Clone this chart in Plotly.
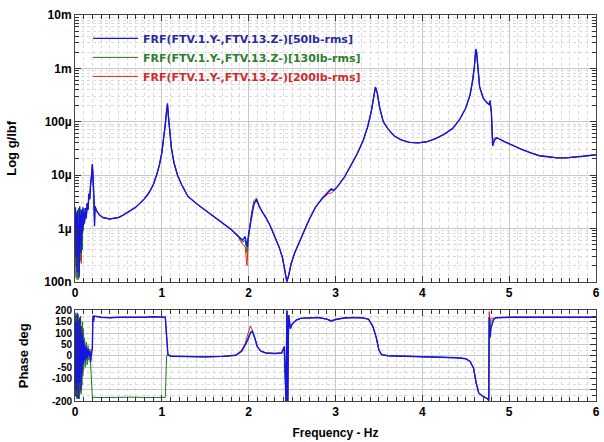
import plotly.graph_objects as go

# ---------------- data ----------------
freq_mag = [0.005, 0.012, 0.018, 0.024, 0.03, 0.036, 0.042, 0.048, 0.054, 0.06,
            0.066, 0.072, 0.078, 0.084, 0.09, 0.096, 0.102, 0.11, 0.12, 0.13,
            0.14, 0.15, 0.16, 0.17, 0.18, 0.19, 0.20, 0.205, 0.21, 0.22,
            0.225, 0.23, 0.25, 0.28, 0.32, 0.36, 0.40, 0.45, 0.50, 0.55,
            0.60, 0.65, 0.70, 0.75, 0.80, 0.85, 0.90, 0.94, 0.97, 1.00,
            1.02, 1.04, 1.055, 1.065, 1.075, 1.09, 1.11, 1.14, 1.18, 1.23,
            1.30, 1.40, 1.50, 1.60, 1.70, 1.80, 1.88, 1.93, 1.96, 1.98,
            2.00, 2.03, 2.06, 2.09, 2.12, 2.16, 2.20, 2.25, 2.30, 2.35,
            2.39, 2.42, 2.44, 2.46, 2.49, 2.53, 2.58, 2.63, 2.70, 2.77,
            2.85, 2.92, 2.95, 2.98, 3.02, 3.10, 3.18, 3.25, 3.32, 3.37,
            3.41, 3.44, 3.46, 3.48, 3.51, 3.55, 3.60, 3.67, 3.75, 3.85,
            3.95, 4.05, 4.15, 4.25, 4.35, 4.43, 4.50, 4.55, 4.58, 4.60,
            4.615, 4.625, 4.64, 4.66, 4.70, 4.74, 4.77, 4.78, 4.795, 4.81,
            4.83, 4.86, 4.95, 5.05, 5.15, 5.25, 5.35, 5.45, 5.55, 5.65,
            5.75, 5.85, 5.95, 6.00]

mag_50 = [2.5e-6, 3e-7, 1.8e-6, 1.5e-7, 2.2e-6, 4e-7, 1.2e-6, 1.2e-7, 2.6e-6, 6e-7,
          1.8e-6, 3.5e-7, 2.2e-6, 8e-7, 2.5e-6, 1.1e-6, 2.0e-6, 1.3e-6, 2.4e-6, 1.6e-6,
          3.0e-6, 2.2e-6, 4.5e-6, 3.5e-6, 7e-6, 9e-6, 1.6e-5, 1.2e-5, 6e-6, 3.5e-6,
          1.1e-6, 2.6e-6, 2.1e-6, 1.8e-6, 1.6e-6, 1.55e-6, 1.5e-6, 1.55e-6, 1.6e-6, 1.75e-6,
          1.95e-6, 2.2e-6, 2.5e-6, 3.0e-6, 3.6e-6, 4.6e-6, 6.5e-6, 1.0e-5, 1.5e-5, 2.6e-5,
          4.5e-5, 9e-5, 1.6e-4, 2.2e-4, 1.3e-4, 6e-5, 3.2e-5, 1.7e-5, 1.0e-5, 6.5e-6,
          4.0e-6, 2.9e-6, 2.2e-6, 1.7e-6, 1.3e-6, 9.5e-7, 7.2e-7, 6.0e-7, 7.0e-7, 4.5e-7,
          8.0e-7, 1.6e-6, 2.8e-6, 3.5e-6, 2.6e-6, 2.0e-6, 1.6e-6, 1.1e-6, 7.0e-7, 4.5e-7,
          2.8e-7, 1.5e-7, 1.0e-7, 1.3e-7, 2.2e-7, 3.5e-7, 5.5e-7, 8.5e-7, 1.5e-6, 2.5e-6,
          3.7e-6, 4.9e-6, 5.5e-6, 5.2e-6, 6.0e-6, 9.0e-6, 1.5e-5, 2.5e-5, 4.5e-5, 8e-5,
          1.5e-4, 3.0e-4, 4.5e-4, 3.5e-4, 1.8e-4, 1.0e-4, 7.5e-5, 5.5e-5, 4.6e-5, 4.1e-5,
          4.0e-5, 4.2e-5, 4.8e-5, 5.8e-5, 7.5e-5, 1.1e-4, 1.8e-4, 3.2e-4, 6e-4, 1.1e-3,
          2.3e-3, 2.0e-3, 9e-4, 4.5e-4, 2.8e-4, 2.3e-4, 2.1e-4, 2.5e-4, 1.5e-4, 3.5e-5,
          4.5e-5, 5.0e-5, 4.2e-5, 3.5e-5, 3.0e-5, 2.6e-5, 2.3e-5, 2.2e-5, 2.1e-5, 2.1e-5,
          2.15e-5, 2.25e-5, 2.35e-5, 2.4e-5]

mag_130 = [1.5e-6, 1.2e-7, 2.0e-6, 3e-7, 1.4e-6, 1.1e-7, 2.4e-6, 5e-7, 1.5e-6, 2.5e-7,
           2.3e-6, 7e-7, 1.6e-6, 4e-7, 2.0e-6, 9e-7, 2.4e-6, 1.2e-6, 2.1e-6, 1.7e-6,
           2.8e-6, 2.4e-6, 4.2e-6, 3.8e-6, 6.5e-6, 9.5e-6, 1.5e-5, 1.1e-5, 6.5e-6, 3.2e-6,
           1.3e-6, 2.5e-6, 2.1e-6, 1.8e-6, 1.6e-6, 1.55e-6, 1.5e-6, 1.55e-6, 1.6e-6, 1.75e-6,
           1.95e-6, 2.2e-6, 2.5e-6, 3.0e-6, 3.6e-6, 4.6e-6, 6.5e-6, 1.0e-5, 1.5e-5, 2.6e-5,
           4.5e-5, 9e-5, 1.6e-4, 2.1e-4, 1.3e-4, 6e-5, 3.2e-5, 1.7e-5, 1.0e-5, 6.5e-6,
           4.0e-6, 2.9e-6, 2.2e-6, 1.7e-6, 1.3e-6, 9.5e-7, 7.0e-7, 5.5e-7, 6.0e-7, 3.5e-7,
           7.5e-7, 1.7e-6, 3.0e-6, 3.5e-6, 2.6e-6, 2.0e-6, 1.6e-6, 1.1e-6, 7.0e-7, 4.5e-7,
           2.8e-7, 1.5e-7, 1.0e-7, 1.3e-7, 2.2e-7, 3.5e-7, 5.5e-7, 8.5e-7, 1.5e-6, 2.5e-6,
           3.7e-6, 4.8e-6, 5.2e-6, 5.2e-6, 6.0e-6, 9.0e-6, 1.5e-5, 2.5e-5, 4.5e-5, 8e-5,
           1.5e-4, 3.0e-4, 4.4e-4, 3.5e-4, 1.8e-4, 1.0e-4, 7.5e-5, 5.5e-5, 4.6e-5, 4.1e-5,
           4.0e-5, 4.2e-5, 4.8e-5, 5.8e-5, 7.5e-5, 1.1e-4, 1.8e-4, 3.2e-4, 6e-4, 1.1e-3,
           2.2e-3, 2.0e-3, 9e-4, 4.5e-4, 2.8e-4, 2.3e-4, 2.1e-4, 2.4e-4, 1.5e-4, 3.8e-5,
           4.5e-5, 5.0e-5, 4.2e-5, 3.5e-5, 3.0e-5, 2.6e-5, 2.3e-5, 2.2e-5, 2.1e-5, 2.1e-5,
           2.15e-5, 2.25e-5, 2.35e-5, 2.4e-5]

mag_200 = [1.0e-6, 2.0e-7, 1.2e-6, 1.1e-7, 1.9e-6, 3e-7, 9e-7, 1.5e-7, 2.0e-6, 4e-7,
           1.3e-6, 2.2e-7, 1.9e-6, 6e-7, 2.2e-6, 1.0e-6, 1.8e-6, 1.4e-6, 2.2e-6, 1.5e-6,
           2.9e-6, 2.3e-6, 4.4e-6, 3.6e-6, 6.8e-6, 9.2e-6, 1.55e-5, 1.15e-5, 6.2e-6, 3.4e-6,
           1.2e-6, 2.6e-6, 2.1e-6, 1.8e-6, 1.6e-6, 1.55e-6, 1.5e-6, 1.55e-6, 1.6e-6, 1.75e-6,
           1.95e-6, 2.2e-6, 2.5e-6, 3.0e-6, 3.6e-6, 4.6e-6, 6.5e-6, 1.0e-5, 1.5e-5, 2.6e-5,
           4.5e-5, 9e-5, 1.6e-4, 2.1e-4, 1.3e-4, 6e-5, 3.2e-5, 1.7e-5, 1.0e-5, 6.5e-6,
           4.0e-6, 2.9e-6, 2.2e-6, 1.7e-6, 1.3e-6, 9.5e-7, 6.8e-7, 5.0e-7, 4.5e-7, 2.0e-7,
           7.0e-7, 1.8e-6, 3.3e-6, 3.7e-6, 2.7e-6, 2.0e-6, 1.6e-6, 1.1e-6, 7.0e-7, 4.5e-7,
           2.8e-7, 1.5e-7, 1.0e-7, 1.3e-7, 2.2e-7, 3.4e-7, 5.5e-7, 8.5e-7, 1.5e-6, 2.5e-6,
           3.6e-6, 4.5e-6, 4.6e-6, 5.0e-6, 6.0e-6, 9.0e-6, 1.5e-5, 2.5e-5, 4.5e-5, 8e-5,
           1.5e-4, 3.0e-4, 4.4e-4, 3.5e-4, 1.8e-4, 1.0e-4, 7.5e-5, 5.5e-5, 4.6e-5, 4.1e-5,
           4.0e-5, 4.2e-5, 4.8e-5, 5.8e-5, 7.5e-5, 1.1e-4, 1.8e-4, 3.2e-4, 6e-4, 1.1e-3,
           2.2e-3, 2.0e-3, 9e-4, 4.5e-4, 2.8e-4, 2.3e-4, 2.1e-4, 2.4e-4, 1.5e-4, 4.5e-5,
           5.0e-5, 5.0e-5, 4.2e-5, 3.5e-5, 3.0e-5, 2.6e-5, 2.3e-5, 2.2e-5, 2.1e-5, 2.1e-5,
           2.15e-5, 2.25e-5, 2.35e-5, 2.4e-5]

freq_ph = [0.005, 0.01, 0.015, 0.02, 0.025, 0.03, 0.035, 0.04, 0.045, 0.05,
           0.055, 0.06, 0.065, 0.07, 0.075, 0.08, 0.085, 0.09, 0.095, 0.10,
           0.11, 0.12, 0.13, 0.14, 0.15, 0.16, 0.17, 0.18, 0.19, 0.20,
           0.205, 0.21, 0.215, 0.22, 0.30, 0.40, 0.50, 0.60, 0.70, 0.80,
           0.90, 1.00, 1.04, 1.055, 1.07, 1.10, 1.30, 1.50, 1.70, 1.85,
           1.92, 1.96, 1.99, 2.02, 2.04, 2.07, 2.10, 2.14, 2.20, 2.30,
           2.38, 2.41, 2.43, 2.44, 2.45, 2.46, 2.48, 2.50, 2.55, 2.60,
           2.70, 2.80, 2.90, 2.95, 3.00, 3.10, 3.20, 3.30, 3.38, 3.43,
           3.47, 3.50, 3.53, 3.60, 3.80, 4.00, 4.20, 4.40, 4.50, 4.55,
           4.59, 4.62, 4.65, 4.70, 4.75, 4.765, 4.77, 4.78, 4.79, 4.82,
           4.85, 5.00, 5.50, 6.00]

ph_50 = [150, -180, 120, -150, 190, -100, 160, -190, 80, -120,
         170, -60, 130, -150, 60, -80, 100, -40, 70, -30,
         50, -20, 40, -10, 30, 0, 20, -30, 10, 30,
         160, 178, 150, 175, 170, 168, 170, 169, 171, 170,
         172, 171, 170, 90, 5, -2, -4, -5, -3, 2,
         20, 45, 70, 100, 110, 80, 40, 20, 12, 10,
         12, 40, -200, 200, -200, 180, 120, 140, 158, 165,
         168, 169, 162, 152, 160, 167, 169, 168, 162, 130,
         80, 25, 5, 0, -2, -4, -6, -9, -13, -25,
         -55, -120, -165, -180, -190, -198, 170, 80, 120, 160,
         168, 170, 170, 170]

ph_130 = [190, -120, 170, -190, 140, -160, 185, -140, 130, -190,
          150, -100, 175, -170, 100, -130, 150, -90, 120, -60,
          80, -50, 60, -40, 45, -20, 30, -60, -120, -185,
          -183, -182, -186, -184, -185, -184, -186, -185, -183, -185,
          -184, -186, -184, 0, 2, -2, -4, -5, -3, 2,
          22, 48, 75, 105, 108, 78, 38, 20, 12, 10,
          12, 40, -200, 200, -200, 180, 120, 140, 158, 165,
          168, 169, 162, 155, 160, 167, 169, 168, 162, 130,
          80, 25, 5, 0, -2, -4, -6, -9, -13, -25,
          -55, -120, -165, -180, -190, -198, 170, 120, 150, 162,
          168, 170, 170, 170]

ph_200 = [120, -150, 180, -120, 150, -190, 130, -170, 160, -90,
          120, -160, 90, -120, 130, -60, 80, -70, 50, -40,
          60, -30, 30, -20, 20, 10, 25, -10, 20, 40,
          165, 176, 160, 174, 170, 168, 170, 169, 171, 170,
          172, 171, 170, 80, 5, -2, -4, -5, -3, 2,
          25, 55, 95, 132, 115, 80, 40, 20, 12, 10,
          12, 40, -200, 200, -200, 180, 120, 140, 158, 165,
          168, 169, 162, 156, 160, 167, 169, 168, 162, 130,
          80, 25, 5, 0, -2, -4, -6, -9, -13, -25,
          -55, -120, -165, -180, -190, -198, 195, 150, 165, 165,
          168, 170, 170, 170]

series_names = ["FRF(FTV.1.Y-,FTV.13.Z-)[50lb-rms]",
                "FRF(FTV.1.Y-,FTV.13.Z-)[130lb-rms]",
                "FRF(FTV.1.Y-,FTV.13.Z-)[200lb-rms]"]
mag_ticks = [1e-7, 1e-6, 1e-5, 1e-4, 1e-3, 1e-2]
mag_tick_text = ["100n", "1µ", "10µ", "100µ", "1m", "10m"]
ph_ticks = [-200, -150, -100, -50, 0, 50, 100, 150, 200]
ph_tick_text = ["-200", "", "-100", "-50", "0", "50", "100", "150", "200"]
x_ticks = [0, 1, 2, 3, 4, 5, 6]

# ---------------- styling ----------------
line_colors = ["#1414e6", "#1f7a1f", "#e02020"]
text_colors = ["#2a2aa0", "#2e7d2e", "#d02a2a"]
widths = [1.4, 1.0, 1.0]
FONT = "Arial, Liberation Sans, sans-serif"
LEG_FONT = "DejaVu Sans, Arial, sans-serif"

fig = go.Figure()
mags = [mag_50, mag_130, mag_200]
phs = [ph_50, ph_130, ph_200]
# draw red, green, then blue so blue sits on top
for i in [2, 1, 0]:
    fig.add_trace(go.Scatter(
        x=freq_mag, y=mags[i], mode="lines",
        line=dict(color=line_colors[i], width=widths[i]),
        name="<span style='color:%s'>%s</span>" % (text_colors[i], series_names[i]),
        xaxis="x", yaxis="y", showlegend=True))
for i in [2, 1, 0]:
    fig.add_trace(go.Scatter(
        x=freq_ph, y=phs[i], mode="lines",
        line=dict(color=line_colors[i], width=widths[i]),
        xaxis="x2", yaxis="y2", showlegend=False))

def axis_common(fs=12):
    return dict(
        showline=True, linecolor="#444", linewidth=1, mirror="allticks",
        ticks="inside", ticklen=6, tickcolor="#333",
        gridcolor="#c8c8c8", gridwidth=1, zeroline=False,
        tickfont=dict(family=FONT, size=fs, color="black", weight="bold"),
    )

minor_grid = dict(ticks="inside", ticklen=4, tickcolor="#333",
                  showgrid=True, gridcolor="#dadada", griddash="dot")

fig.update_layout(
    width=604, height=442,
    margin=dict(l=75, r=4, t=15, b=39),
    paper_bgcolor="white", plot_bgcolor="white",
    font=dict(family=FONT, size=12, color="black"),
    xaxis=dict(domain=[0, 1], anchor="y", range=[0, 6], tickvals=x_ticks,
               minor=dict(dtick=0.1, **minor_grid),
               **axis_common()),
    yaxis=dict(domain=[0.309, 1], anchor="x", type="log", range=[-7, -2],
               tickvals=mag_ticks, ticktext=mag_tick_text,
               title=dict(text="Log g/lbf", standoff=24,
                          font=dict(family=FONT, size=13, weight="bold")),
               minor=dict(dtick="D1", **minor_grid),
               **axis_common()),
    xaxis2=dict(domain=[0, 1], anchor="y2", range=[0, 6], tickvals=x_ticks,
                title=dict(text="Frequency - Hz", standoff=10,
                           font=dict(family=FONT, size=12, weight="bold")),
                minor=dict(dtick=0.1, **minor_grid),
                **axis_common()),
    yaxis2=dict(domain=[0, 0.2345], anchor="x2", range=[-200, 200],
                tickvals=ph_ticks, ticktext=ph_tick_text,
                title=dict(text="Phase deg", standoff=20,
                           font=dict(family=FONT, size=13, weight="bold")),
                minor=dict(dtick=25, **minor_grid),
                **axis_common(10)),
    legend=dict(x=0.025, y=0.977, xanchor="left", yanchor="top",
                traceorder="reversed", bgcolor="rgba(0,0,0,0)",
                font=dict(family=LEG_FONT, size=11, weight="bold"),
                itemwidth=45, tracegroupgap=0),
    showlegend=True,
)

fig.write_html("out.html")
